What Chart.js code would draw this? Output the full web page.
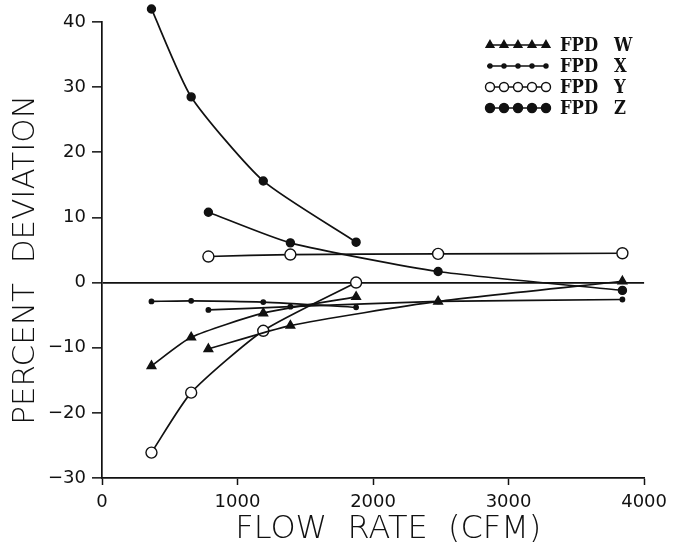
<!DOCTYPE html>
<html>
<head>
<meta charset="utf-8">
<script src="https://cdn.jsdelivr.net/npm/chart.js@4/dist/chart.umd.min.js"></script>
<style>
  html, body { margin: 0; padding: 0; background: #fff; }
  #wrap { width: 674px; height: 542px; }
</style>
</head>
<body>
<div id="wrap"><canvas id="myChart" width="674" height="542"></canvas></div>
<script>
// flow rates (CFM) for the two runs of each detector
const flowRun1 = [365, 658, 1190, 1875];
const flowRun2 = [785, 1390, 2480, 3840];

// percent deviation
const fpdW1 = [-12.8, -8.4, -4.7, -2.2];
const fpdW2 = [-10.2, -6.6, -2.9, 0.2];
const fpdX1 = [-2.9, -2.8, -3.0, -3.8];
const fpdX2 = [-4.2, -3.7, -2.9, -2.6];
const fpdY1 = [-26.1, -16.9, -7.4, 0.0];
const fpdY2 = [4.0, 4.3, 4.4, 4.5];
const fpdZ1 = [42.0, 28.5, 15.6, 6.2];
const fpdZ2 = [10.8, 6.1, 1.7, -1.2];

const legendNames = ["FPD W", "FPD X", "FPD Y", "FPD Z"];
const xTicks = [0, 1000, 2000, 3000, 4000];
const yTicks = [-30, -20, -10, 0, 10, 20, 30, 40];

function pts(xs, ys) {
  return xs.map((x, i) => ({ x: x, y: ys[i] }));
}

const markers = {
  W: { pointStyle: "triangle", pointRadius: 5, pointBackgroundColor: "#111" },
  X: { pointStyle: "circle", pointRadius: 2.2, pointBackgroundColor: "#111" },
  Y: { pointStyle: "circle", pointRadius: 5.5, pointBackgroundColor: "#fff" },
  Z: { pointStyle: "circle", pointRadius: 4, pointBackgroundColor: "#111" },
};

function series(key, xs, ys) {
  return Object.assign({
    label: "FPD " + key,
    data: pts(xs, ys),
    showLine: true,
    borderColor: "#111",
    borderWidth: 1.7,
    pointBorderColor: "#111",
    pointBorderWidth: 1.4,
    tension: 0.2,
    clip: false,
  }, markers[key]);
}

const datasets = [
  series("W", flowRun1, fpdW1),
  series("W", flowRun2, fpdW2),
  series("X", flowRun1, fpdX1),
  series("X", flowRun2, fpdX2),
  series("Y", flowRun1, fpdY1),
  series("Y", flowRun2, fpdY2),
  series("Z", flowRun1, fpdZ1),
  series("Z", flowRun2, fpdZ2),
];

// points above the 40 % line are skipped by Chart.js, draw them again
const overflowPoints = {
  id: "overflowPoints",
  afterDatasetsDraw(chart) {
    const area = chart.chartArea;
    const big = { left: 0, top: 0, right: chart.width, bottom: chart.height };
    chart.data.datasets.forEach((ds, i) => {
      chart.getDatasetMeta(i).data.forEach((el) => {
        if (el.y < area.top) el.draw(chart.ctx, big);
      });
    });
  },
};

// legend with five markers on each line, like the plotter output
const legendPlugin = {
  id: "fpdLegend",
  afterDraw(chart) {
    const ctx = chart.ctx;
    const keys = ["W", "X", "Y", "Z"];
    ctx.save();
    keys.forEach((k, i) => {
      const y = 45 + i * 21;
      ctx.strokeStyle = "#111";
      ctx.lineWidth = 1.7;
      ctx.beginPath();
      ctx.moveTo(487, y);
      ctx.lineTo(548, y);
      ctx.stroke();
      const m = markers[k];
      for (let j = 0; j < 5; j++) {
        const px = 490 + j * 14;
        ctx.fillStyle = m.pointBackgroundColor;
        ctx.strokeStyle = "#111";
        ctx.lineWidth = 1.4;
        Chart.helpers.drawPoint(ctx, {
          pointStyle: m.pointStyle,
          radius: k === "X" ? 2 : (k === "Y" ? 4.5 : 4.5),
          borderWidth: 1.4,
          rotation: 0,
        }, px, y);
      }
      ctx.fillStyle = "#111";
      ctx.textBaseline = "middle";
      ctx.font = "bold 19px 'DejaVu Serif'";
      ctx.save();
      ctx.translate(560, y + 1);
      ctx.scale(0.86, 1);
      ctx.fillText("FPD", 0, 0);
      ctx.restore();
      ctx.save();
      ctx.translate(614, y + 1);
      ctx.scale(0.86, 1);
      ctx.fillText(legendNames[i].slice(4), 0, 0);
      ctx.restore();
    });
    ctx.restore();
  },
};

new Chart(document.getElementById("myChart"), {
  type: "scatter",
  data: { datasets: datasets },
  plugins: [overflowPoints, legendPlugin],
  options: {
    responsive: false,
    animation: false,
    layout: { padding: { left: 0, top: 22, right: 26, bottom: 0 } },
    plugins: {
      legend: { display: false },
      tooltip: { enabled: false },
    },
    scales: {
      x: {
        type: "linear",
        min: 0,
        max: 4000,
        afterFit(scale) { scale.height = 64; },
        afterBuildTicks(scale) { scale.ticks = xTicks.map((v) => ({ value: v })); },
        ticks: {
          color: "#111",
          padding: 7,
          maxRotation: 0,
          font: { family: "DejaVu Sans", size: 18 },
          callback: (v) => String(v),
        },
        grid: {
          drawOnChartArea: false,
          tickLength: 7,
          tickColor: "#111",
          tickWidth: 1.5,
        },
        border: { color: "#111", width: 1.7 },
        title: {
          display: true,
          text: "   FLOW  RATE  (CFM)",
          color: "#111",
          font: { family: "DejaVu Sans", size: 32, weight: "200", lineHeight: 0.8 },
          padding: { top: 0, bottom: 0 },
        },
      },
      y: {
        type: "linear",
        min: -30,
        max: 40,
        afterFit(scale) { scale.width = 102; },
        afterBuildTicks(scale) { scale.ticks = yTicks.map((v) => ({ value: v })); },
        ticks: {
          color: "#111",
          padding: 6,
          font: { family: "DejaVu Sans", size: 18 },
          callback: (v) => (v < 0 ? "\u2212" + Math.abs(v) : String(v)),
        },
        grid: {
          color: (c) => (c.tick && c.tick.value === 0 ? "#111" : "rgba(0,0,0,0)"),
          lineWidth: 1.7,
          tickLength: 10,
          tickColor: "#111",
          tickWidth: 1.5,
        },
        border: { color: "#111", width: 1.7 },
        title: {
          display: true,
          text: "PERCENT  DEVIATION  ",
          color: "#111",
          font: { family: "DejaVu Sans", size: 31, weight: "200", lineHeight: 0.8 },
          padding: { top: 14, bottom: 0 },
        },
      },
    },
  },
});
</script>
</body>
</html>
